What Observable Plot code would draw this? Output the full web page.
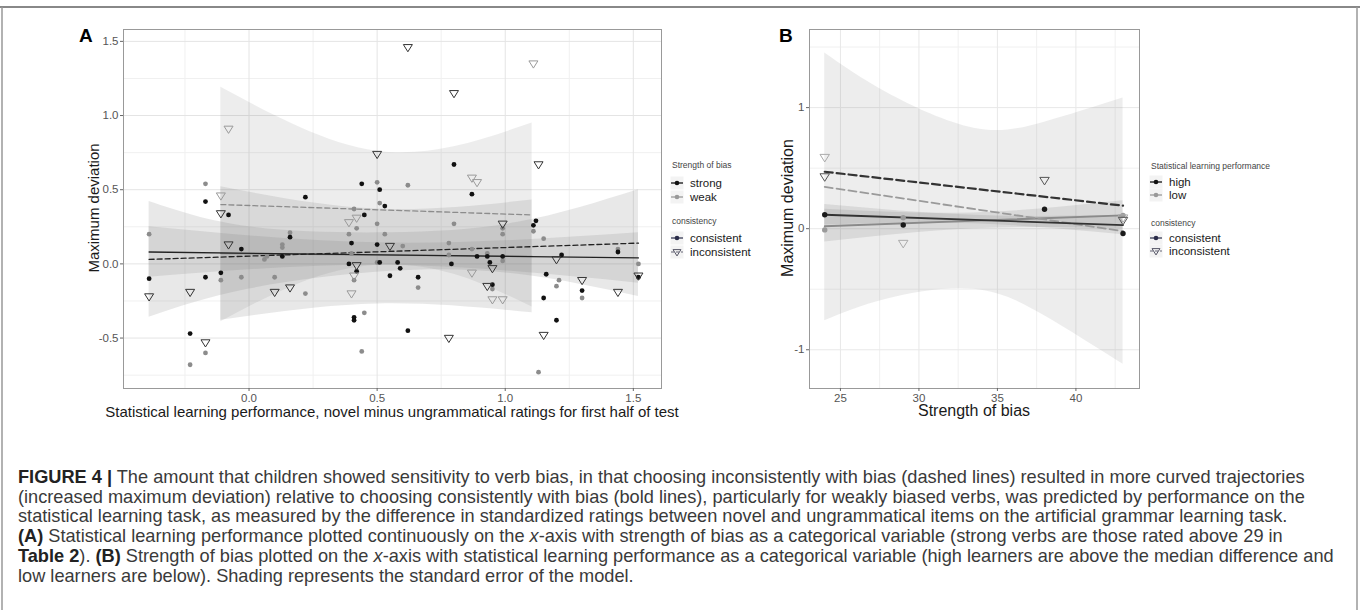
<!DOCTYPE html>
<html><head><meta charset="utf-8">
<script src="https://cdn.jsdelivr.net/npm/d3@7"></script>
<script src="https://cdn.jsdelivr.net/npm/@observablehq/plot@0.6"></script>
<style>
html,body{margin:0;padding:0;background:#fff;}
#fig{position:relative;width:1360px;height:610px;overflow:hidden;font-family:"Liberation Sans",Arial,Helvetica,sans-serif;}
.abs{position:absolute;}
.ytitle{position:absolute;white-space:nowrap;transform:translate(-50%,-50%) rotate(-90deg);color:#1a1a1a;}
.xtitle{position:absolute;white-space:nowrap;transform:translate(-50%,-50%);color:#1a1a1a;}
#cap{position:absolute;left:18px;top:468px;font-size:18.2px;line-height:19.7px;color:#3a3a3a;}
#cap div{white-space:nowrap;}
#cap b{color:#222;}
g[aria-label="x-axis tick label"], g[aria-label="y-axis tick label"]{fill:#555;}
g[aria-label="x-axis tick"], g[aria-label="y-axis tick"]{stroke:#666;}
</style></head><body><div id="fig"></div>
<script>
// ---------- Panel A data ----------
const aStrongConsistent = [[-0.39,-0.10],[-0.23,-0.47],[-0.17,0.42],[-0.17,-0.09],[-0.11,-0.06],[-0.08,0.33],[-0.03,0.10],[0.13,0.05],[0.16,0.18],[0.22,0.45],[0.39,0.00],[0.40,0.14],[0.42,-0.05],[0.41,-0.36],[0.41,-0.38],[0.44,0.54],[0.45,0.33],[0.50,0.13],[0.51,0.50],[0.53,0.39],[0.51,0.01],[0.55,-0.08],[0.58,0.01],[0.59,-0.03],[0.62,-0.45],[0.66,-0.09],[0.79,0.00],[0.80,0.67],[0.87,0.47],[0.89,0.05],[0.93,0.05],[0.94,0.01],[0.95,-0.14],[0.99,0.05],[1.11,0.26],[1.12,0.29],[1.16,-0.07],[1.15,-0.23],[1.20,-0.38],[1.22,0.06],[1.30,-0.18],[1.44,0.08],[1.52,-0.09]];
const aWeakConsistent = [[-0.39,0.20],[-0.23,-0.68],[-0.17,0.54],[-0.17,-0.60],[-0.11,-0.11],[-0.03,-0.09],[0.06,0.03],[0.07,0.05],[0.10,-0.09],[0.13,0.13],[0.13,0.11],[0.16,0.21],[0.22,-0.20],[0.39,0.20],[0.40,0.07],[0.41,0.37],[0.42,0.24],[0.41,-0.11],[0.44,-0.59],[0.45,-0.33],[0.50,0.27],[0.50,0.55],[0.50,0.01],[0.51,0.41],[0.53,0.20],[0.60,0.12],[0.62,0.53],[0.66,-0.16],[0.78,0.14],[0.78,0.06],[0.80,0.27],[0.87,0.10],[0.93,0.07],[0.95,-0.17],[0.99,0.24],[0.99,0.20],[0.99,0.02],[1.11,0.22],[1.15,0.17],[1.21,-0.11],[1.20,-0.15],[1.13,-0.73],[1.30,-0.23],[1.44,0.10],[1.52,0.00]];
const aStrongInconsistent = [[-0.39,-0.22],[-0.23,-0.19],[-0.17,-0.53],[-0.11,0.34],[-0.08,0.13],[0.10,-0.19],[0.16,-0.16],[0.42,-0.01],[0.50,0.74],[0.55,0.12],[0.62,1.46],[0.78,-0.50],[0.80,1.15],[0.93,-0.15],[0.95,-0.03],[0.99,0.27],[1.13,0.67],[1.15,-0.48],[1.20,0.03],[1.30,-0.11],[1.44,-0.19],[1.52,-0.08]];
const aWeakInconsistent = [[-0.08,0.91],[-0.11,0.46],[0.39,0.28],[0.42,0.31],[0.41,-0.08],[0.40,-0.20],[0.87,0.58],[0.89,0.55],[0.87,-0.06],[0.95,-0.24],[0.99,-0.24],[1.11,1.35]];
// fitted lines (endpoints)
const aFitStrongConsistent = [[-0.39,0.08],[1.52,0.04]];
const aFitStrongInconsistent = [[-0.39,0.03],[1.52,0.14]];
const aFitWeakConsistent = [[-0.11,0.07],[1.105,0.05]];
const aFitWeakInconsistent = [[-0.11,0.40],[1.105,0.33]];
// standard-error bands [x, lo, hi]
const aBandWeakInconsistent = [[-0.11,-0.39,1.19],[0.2,-0.13,0.92],[0.5,-0.01,0.76],[0.8,-0.07,0.79],[1.105,-0.29,0.95]];
const aBandWeakConsistent = [[-0.11,-0.38,0.52],[0.5,-0.27,0.37],[1.105,-0.33,0.43]];
const aBandStrongInconsistent = [[-0.39,-0.36,0.42],[0.0,-0.17,0.25],[0.55,-0.05,0.21],[1.05,-0.07,0.28],[1.52,-0.22,0.50]];
const aBandStrongConsistent = [[-0.39,-0.09,0.25],[0.55,-0.01,0.14],[1.52,-0.13,0.21]];
const aTicksX = [0, 0.5, 1, 1.5];
const aTickLabelsX = ["0.0","0.5","1.0","1.5"];
const aTicksY = [-0.5, 0, 0.5, 1, 1.5];
const aTickLabelsY = ["-0.5","0.0","0.5","1.0","1.5"];
const aMinorX = [-0.25, 0.25, 0.75, 1.25];
const aMinorY = [-0.75, -0.25, 0.25, 0.75, 1.25];

// ---------- Panel B data ----------
const bHighConsistent = [[24,0.115],[29,0.03],[38,0.16],[43,-0.04]];
const bLowConsistent = [[24,-0.01],[29,0.09],[43,0.11]];
const bHighInconsistent = [[24,0.43],[38,0.40],[43,0.07]];
const bLowInconsistent = [[24,0.59],[29,-0.12],[43,0.09]];
const bFitHighConsistent = [[24,0.115],[43,0.03]];
const bFitLowConsistent = [[24,0.02],[43,0.11]];
const bFitHighInconsistent = [[24,0.47],[43,0.19]];
const bFitLowInconsistent = [[24,0.345],[43,-0.02]];
const bBandLowInconsistent = [[24,-0.76,1.45],[28,-0.58,1.12],[33.5,-0.50,0.83],[38,-0.72,0.88],[43,-1.12,1.08]];
const bBandHighConsistent = [[24,0.03,0.20],[33.5,0.04,0.11],[43,-0.05,0.11]];
const bBandLowConsistent = [[24,-0.11,0.16],[33.5,0.0,0.13],[43,0.0,0.23]];
const bTicksX = [25, 30, 35, 40];
const bTickLabelsX = ["25","30","35","40"];
const bTicksY = [-1, 0, 1];
const bTickLabelsY = ["-1","0","1"];
const bMinorX = [27.5, 32.5, 37.5, 42.5];
const bMinorY = [-0.5, 0.5, 1.5];

// ---------- text ----------
const panelLabels = ["A", "B"];
const aXTitle = "Statistical learning performance, novel minus ungrammatical ratings for first half of test";
const bXTitle = "Strength of bias";
const yTitle = "Maximum deviation";
const aLegendTitle = "Strength of bias";
const aLegendLevels = ["strong", "weak"];
const bLegendTitle = "Statistical learning performance";
const bLegendLevels = ["high", "low"];
const shapeLegendTitle = "consistency";
const shapeLegendLevels = ["consistent", "inconsistent"];
const captionLines = [
  "<b>FIGURE 4 |</b> The amount that children showed sensitivity to verb bias, in that choosing inconsistently with bias (dashed lines) resulted in more curved trajectories",
  "(increased maximum deviation) relative to choosing consistently with bias (bold lines), particularly for weakly biased verbs, was predicted by performance on the",
  "statistical learning task, as measured by the difference in standardized ratings between novel and ungrammatical items on the artificial grammar learning task.",
  "<b>(A)</b> Statistical learning performance plotted continuously on the <i>x</i>-axis with strength of bias as a categorical variable (strong verbs are those rated above 29 in",
  "<b>Table 2</b>). <b>(B)</b> Strength of bias plotted on the <i>x</i>-axis with statistical learning performance as a categorical variable (high learners are above the median difference and",
  "low learners are below). Shading represents the standard error of the model."
];

// ---------- helpers ----------
const FONT = '"Liberation Sans", Arial, Helvetica, sans-serif';
const triDown = {draw(ctx, size) {
  const r = Math.sqrt(size / Math.PI);
  const w = r * 1.1, h = r * 0.95;
  ctx.moveTo(-w, -h * 0.7); ctx.lineTo(w, -h * 0.7); ctx.lineTo(0, h * 1.15); ctx.closePath();
}};
const X = d => d[0], Y = d => d[1];
const band = (data, opts) => Plot.areaY(data, {x: d => d[0], y1: d => d[1], y2: d => d[2], curve: "natural", ...opts});

const fig = document.getElementById("fig");

// ---------- Panel A ----------
const BLACK = "#111", GREY = "#8c8c8c";
const bandFill = {fill: "#777", fillOpacity: 0.17};
const plotA = Plot.plot({
  width: 700, height: 420,
  marginLeft: 123, marginRight: 39, marginTop: 29, marginBottom: 32,
  x: {domain: [-0.49, 1.61]},
  y: {domain: [-0.84, 1.58]},
  style: {background: "transparent", fontFamily: FONT, overflow: "visible"},
  marks: [
    Plot.gridX(aMinorX, {stroke: "#f0f0f0", strokeOpacity: 1}),
    Plot.gridY(aMinorY, {stroke: "#f0f0f0", strokeOpacity: 1}),
    Plot.gridX(aTicksX, {stroke: "#e4e4e4", strokeOpacity: 1}),
    Plot.gridY(aTicksY, {stroke: "#e4e4e4", strokeOpacity: 1}),
    band(aBandWeakInconsistent, {fill: "#777", fillOpacity: 0.13}),
    band(aBandWeakConsistent, bandFill),
    band(aBandStrongInconsistent, bandFill),
    band(aBandStrongConsistent, bandFill),
    Plot.line(aFitWeakConsistent, {x: X, y: Y, stroke: GREY, strokeWidth: 1.3}),
    Plot.line(aFitWeakInconsistent, {x: X, y: Y, stroke: GREY, strokeWidth: 1.3, strokeDasharray: "5,3"}),
    Plot.line(aFitStrongConsistent, {x: X, y: Y, stroke: "#222", strokeWidth: 1.3}),
    Plot.line(aFitStrongInconsistent, {x: X, y: Y, stroke: "#222", strokeWidth: 1.3, strokeDasharray: "5,3"}),
    Plot.dot(aWeakConsistent, {x: X, y: Y, r: 2.4, fill: GREY, stroke: "none"}),
    Plot.dot(aStrongConsistent, {x: X, y: Y, r: 2.4, fill: BLACK, stroke: "none"}),
    Plot.dot(aWeakInconsistent, {x: X, y: Y, r: 4.1, symbol: triDown, fill: "none", stroke: "#9a9a9a", strokeWidth: 1}),
    Plot.dot(aStrongInconsistent, {x: X, y: Y, r: 4.1, symbol: triDown, fill: "none", stroke: "#333", strokeWidth: 1}),
    Plot.frame({stroke: "#999"}),
    Plot.axisX(aTicksX, {tickFormat: (d, i) => aTickLabelsX[i], tickSize: 3, tickPadding: 2, fontSize: 11.5, label: null}),
    Plot.axisY(aTicksY, {tickFormat: (d, i) => aTickLabelsY[i], tickSize: 3, tickPadding: 2, fontSize: 11.5, label: null})
  ]
});
plotA.style.position = "absolute"; plotA.style.left = "0px"; plotA.style.top = "0px";
fig.appendChild(plotA);

// ---------- Panel B ----------
const HIGH = "#1a1a1a", LOW = "#9a9a9a";
const plotB = Plot.plot({
  width: 400, height: 420,
  marginLeft: 49, marginRight: 21, marginTop: 29, marginBottom: 32,
  x: {domain: [23.03, 44.05]},
  y: {domain: [-1.32, 1.645]},
  style: {background: "transparent", fontFamily: FONT, overflow: "visible"},
  marks: [
    Plot.gridX(bMinorX, {stroke: "#f0f0f0", strokeOpacity: 1}),
    Plot.gridY(bMinorY, {stroke: "#f0f0f0", strokeOpacity: 1}),
    Plot.gridX(bTicksX, {stroke: "#e8e8e8", strokeOpacity: 1}),
    Plot.gridY(bTicksY, {stroke: "#e8e8e8", strokeOpacity: 1}),
    band(bBandLowInconsistent, {fill: "#777", fillOpacity: 0.13}),
    band(bBandLowConsistent, bandFill),
    band(bBandHighConsistent, bandFill),
    Plot.line(bFitLowConsistent, {x: X, y: Y, stroke: "#8a8a8a", strokeWidth: 1.8}),
    Plot.line(bFitLowInconsistent, {x: X, y: Y, stroke: LOW, strokeWidth: 1.8, strokeDasharray: "8,4"}),
    Plot.line(bFitHighConsistent, {x: X, y: Y, stroke: "#333", strokeWidth: 1.8}),
    Plot.line(bFitHighInconsistent, {x: X, y: Y, stroke: "#333", strokeWidth: 2.2, strokeDasharray: "8,4"}),
    Plot.dot(bLowConsistent, {x: X, y: Y, r: 2.7, fill: LOW, stroke: "none"}),
    Plot.dot(bHighConsistent, {x: X, y: Y, r: 2.7, fill: HIGH, stroke: "none"}),
    Plot.dot(bLowInconsistent, {x: X, y: Y, r: 4.3, symbol: triDown, fill: "none", stroke: "#aaa", strokeWidth: 1}),
    Plot.dot(bHighInconsistent, {x: X, y: Y, r: 4.3, symbol: triDown, fill: "none", stroke: "#555", strokeWidth: 1}),
    Plot.frame({stroke: "#999"}),
    Plot.axisX(bTicksX, {tickFormat: (d, i) => bTickLabelsX[i], tickSize: 3, tickPadding: 2, fontSize: 11.5, label: null}),
    Plot.axisY(bTicksY, {tickFormat: (d, i) => bTickLabelsY[i], tickSize: 3, tickPadding: 2, fontSize: 11.5, label: null})
  ]
});
plotB.style.position = "absolute"; plotB.style.left = "760px"; plotB.style.top = "0px";
fig.appendChild(plotB);

// ---------- titles ----------
function addDiv(cls, text, left, top, size) {
  const d = document.createElement("div");
  d.className = cls; d.textContent = text;
  d.style.left = left + "px"; d.style.top = top + "px"; d.style.fontSize = size + "px";
  fig.appendChild(d); return d;
}
addDiv("ytitle", yTitle, 93, 208, 15);
addDiv("ytitle", yTitle, 788, 208, 16);
addDiv("xtitle", aXTitle, 392, 411, 15);
addDiv("xtitle", bXTitle, 974, 411, 16);

// ---------- overlay: frame, panel labels, legends ----------
const ov = d3.select(fig).append("svg")
  .attr("width", 1360).attr("height", 610)
  .style("position", "absolute").style("left", 0).style("top", 0)
  .style("font-family", FONT).style("pointer-events", "none");
ov.append("line").attr("x1", 0).attr("x2", 1360).attr("y1", 7).attr("y2", 7).attr("stroke", "#888").attr("stroke-width", 2);
ov.append("line").attr("x1", 2).attr("x2", 2).attr("y1", 7).attr("y2", 610).attr("stroke", "#999").attr("stroke-width", 1.5);
ov.append("line").attr("x1", 1357).attr("x2", 1357).attr("y1", 7).attr("y2", 610).attr("stroke", "#999").attr("stroke-width", 1.5);
ov.append("text").attr("x", 79).attr("y", 42).attr("font-size", 19).attr("font-weight", "bold").attr("fill", "#000").text(panelLabels[0]);
ov.append("text").attr("x", 779).attr("y", 42).attr("font-size", 19).attr("font-weight", "bold").attr("fill", "#000").text(panelLabels[1]);

function legend(x0, title1, levels, ys, shapeYs) {
  const g = ov.append("g");
  const kx = x0 + 5, tx = x0 + 18;
  g.append("text").attr("x", x0).attr("y", ys[0]).attr("font-size", 8.5).attr("fill", "#444").text(title1);
  const cols = ["#111", "#999"];
  levels.forEach((lv, i) => {
    const y = ys[1 + i];
    g.append("rect").attr("x", kx - 6.5).attr("y", y - 6.5).attr("width", 13).attr("height", 13).attr("fill", "#f3f3f3");
    g.append("line").attr("x1", kx - 6).attr("x2", kx + 6).attr("y1", y).attr("y2", y).attr("stroke", cols[i]).attr("stroke-width", 1.3);
    g.append("circle").attr("cx", kx).attr("cy", y).attr("r", 2.3).attr("fill", cols[i]);
    g.append("text").attr("x", tx).attr("y", y + 4).attr("font-size", 11.5).attr("fill", "#1a1a1a").text(lv);
  });
  g.append("text").attr("x", x0).attr("y", shapeYs[0]).attr("font-size", 8.5).attr("fill", "#444").text(shapeLegendTitle);
  shapeLegendLevels.forEach((lv, i) => {
    const y = shapeYs[1 + i];
    g.append("rect").attr("x", kx - 6.5).attr("y", y - 6.5).attr("width", 13).attr("height", 13).attr("fill", "#f3f3f3");
    const ln = g.append("line").attr("x1", kx - 6).attr("x2", kx + 6).attr("y1", y).attr("y2", y).attr("stroke", "#2b2d4a").attr("stroke-width", 1.2);
    if (i === 0) {
      g.append("circle").attr("cx", kx).attr("cy", y).attr("r", 2.3).attr("fill", "#2b2d4a");
    } else {
      ln.attr("stroke-dasharray", "3,2").attr("stroke", "#667");
      const p = d3.path(); triDown.draw(p, Math.PI * 3.6 * 3.6);
      g.append("path").attr("d", p.toString()).attr("transform", `translate(${kx},${y})`).attr("fill", "none").attr("stroke", "#556").attr("stroke-width", 1);
    }
    g.append("text").attr("x", tx).attr("y", y + 4).attr("font-size", 11.5).attr("fill", "#1a1a1a").text(lv);
  });
}
legend(672, aLegendTitle, aLegendLevels, [168, 183, 197], [224, 238, 252]);
legend(1151, bLegendTitle, bLegendLevels, [169, 182, 195], [226, 238, 251]);

// ---------- caption ----------
const cap = document.createElement("div"); cap.id = "cap";
captionLines.forEach(h => { const l = document.createElement("div"); l.innerHTML = h; cap.appendChild(l); });
fig.appendChild(cap);
</script>
</body></html>
